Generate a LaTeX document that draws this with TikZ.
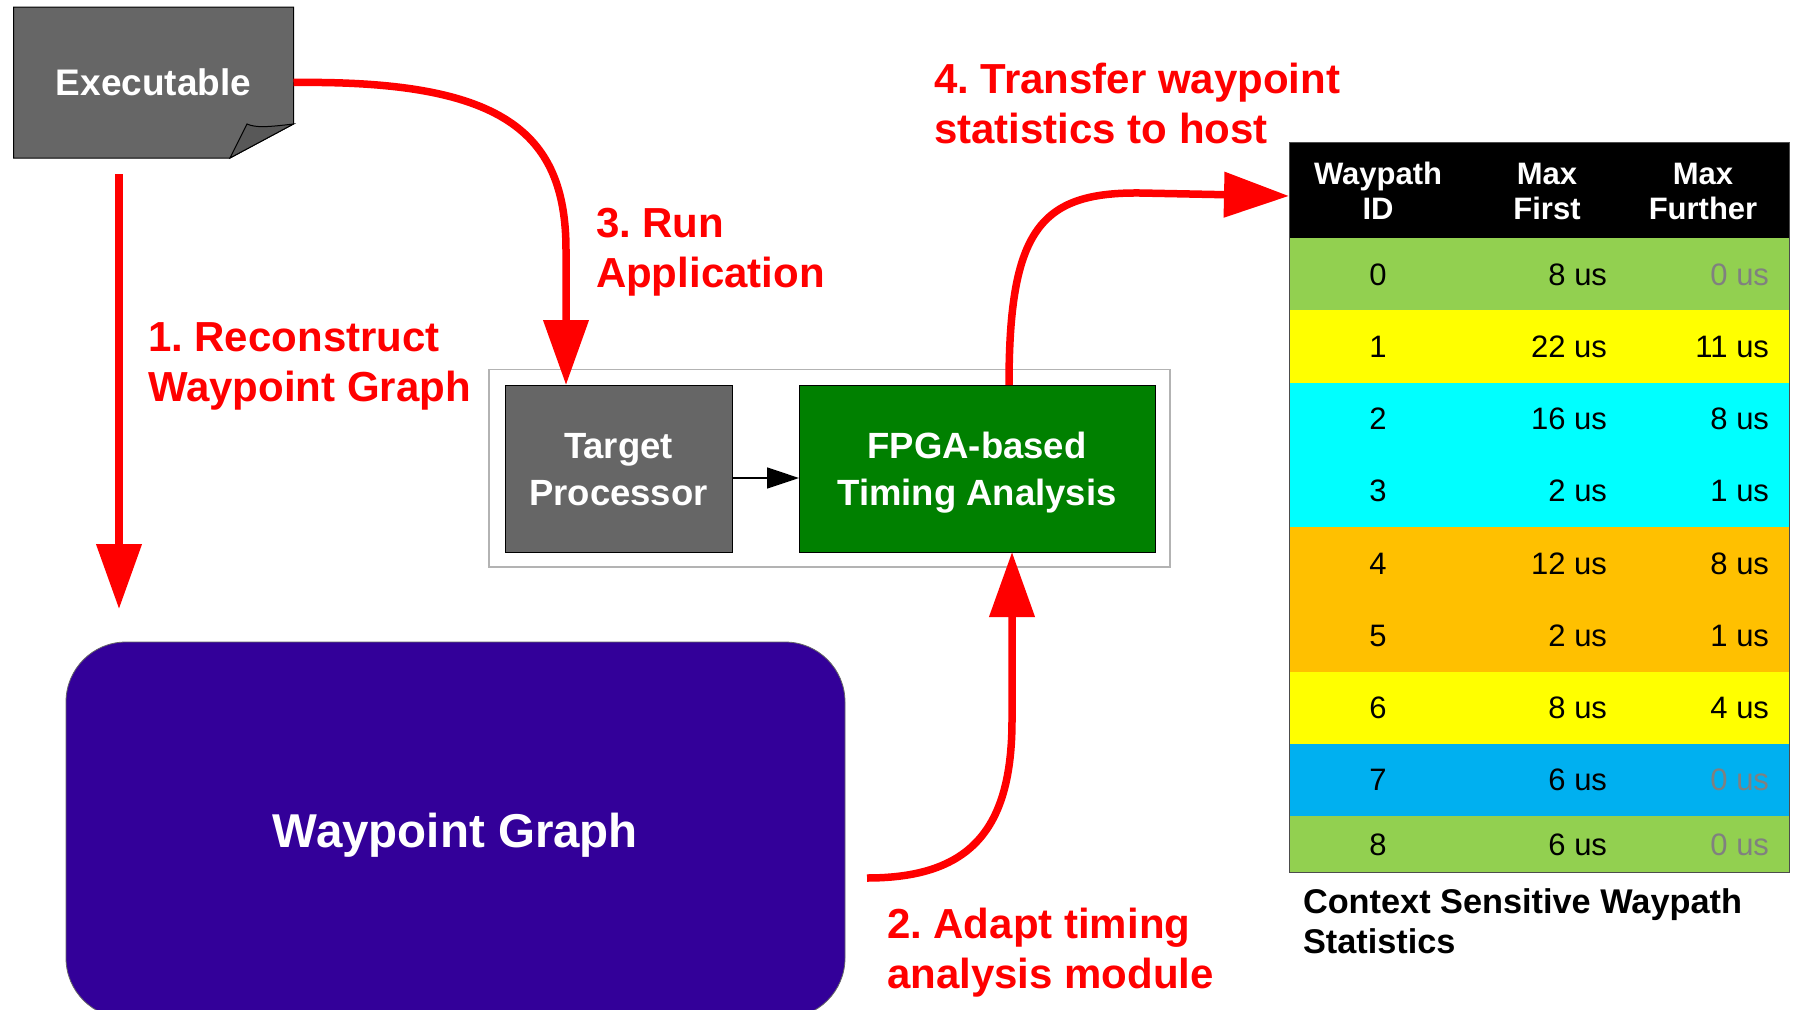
\documentclass[tikz,border=0pt]{standalone}
\usepackage{fontspec}
\setmainfont{Liberation Sans}
\usetikzlibrary{arrows.meta,backgrounds}
\frenchspacing

\definecolor{arrowred}{HTML}{FF0000}
\definecolor{boxgray}{HTML}{666666}
\definecolor{flapgray}{HTML}{585858}
\definecolor{fpgagreen}{HTML}{008000}
\definecolor{graphblue}{HTML}{330099}
\definecolor{framegray}{HTML}{B3B3B3}
\definecolor{rowgreen}{HTML}{92D050}
\definecolor{rowyellow}{HTML}{FFFF00}
\definecolor{rowcyan}{HTML}{00FFFF}
\definecolor{roworange}{HTML}{FFC000}
\definecolor{rowblue}{HTML}{00B0F0}
\definecolor{zerogray}{HTML}{808080}

% two lines stacked; the baseline is that of the first line
\newcommand\cpair[2]{\vtop{\halign{\hfil##\hfil\cr#1\cr#2\cr}}}
\newcommand\lpair[2]{\vtop{\halign{##\hfil\cr#1\cr#2\cr}}}

\begin{document}
\begin{tikzpicture}[x=1pt,y=-1pt,
  every node/.style={inner sep=0pt,outer sep=0pt},
  redarrow/.style={draw=arrowred,line width=7.5pt,
    -{Triangle[length=65pt,width=44pt]}},
  redlabel/.style={text=arrowred,anchor=base west,
    font=\bfseries\fontsize{42}{50}\selectfont},
  whitebold/.style={text=white,font=\bfseries\fontsize{36.5}{46.5}\selectfont},
  procbox/.style={draw=black,line width=1pt,whitebold,
    text height=27pt,text depth=47pt},
  rowbox/.style={minimum width=500.5pt},
  headtext/.style={text=white,anchor=base,
    font=\bfseries\fontsize{31}{35}\selectfont},
  celltext/.style={font=\fontsize{31}{37}\selectfont},
]
\useasboundingbox (0,0) rectangle (1793,1009);

% ---- executable (sheet with a folded corner) ----
\node[minimum width=280pt,minimum height=151pt,text=white,
      font=\bfseries\fontsize{37}{44}\selectfont] (exe) at (153.5,82.5) {Executable};
\begin{scope}[on background layer]
  \filldraw[fill=boxgray,draw=black,line width=1pt]
    (exe.north west) -- (exe.north east) -- ([yshift=34pt]exe.south east)
    -- ([xshift=-63.5pt]exe.south east) -- (exe.south west) -- cycle;
  \filldraw[fill=flapgray,draw=black,line width=1pt]
    ([xshift=-63.5pt]exe.south east) -- (247,124)
    .. controls (256,128) and (268,127) .. ([yshift=34pt]exe.south east) -- cycle;
\end{scope}

% ---- waypoint graph ----
\node[fill=graphblue,draw=boxgray,line width=0.8pt,rounded corners=60pt,
      minimum width=779pt,minimum height=376pt,text=white,text depth=0pt,
      font=\bfseries\fontsize{47.5}{56}\selectfont] (wg) at (455.5,830) {Waypoint Graph};

% ---- target platform ----
\node[draw=framegray,line width=1.5pt,minimum width=681pt,minimum height=197.5pt]
  (frame) at (829.5,468.25) {};
\node[procbox,fill=boxgray,minimum width=227pt,minimum height=167pt]
  (tp) at (618.5,468.5) {\cpair{Target}{Processor}};
\node[procbox,fill=fpgagreen,minimum width=356pt,minimum height=167pt]
  (fpga) at (977,468.5) {\cpair{FPGA-based}{Timing Analysis}};
\draw[line width=1.5pt,-{Triangle[length=32pt,width=21pt]}]
  ([yshift=-9.5pt]tp.east) -- ([yshift=-9.5pt]fpga.west);

% ---- statistics table ----
\node[rowbox,fill=black,minimum height=96pt] (hdr) at (1539.25,190) {};
\foreach \k/\yc/\hh/\clr in {0/274.125/72.25/rowgreen,1/346.375/72.25/rowyellow,
    2/418.625/72.25/rowcyan,3/490.875/72.25/rowcyan,4/563.125/72.25/roworange,
    5/635.375/72.25/roworange,6/707.625/72.25/rowyellow,7/779.875/72.25/rowblue,
    8/844/56/rowgreen}
  \node[rowbox,fill=\clr,minimum height=\hh pt] (r\k) at (1539.25,\yc) {};
\draw[draw=black!70,line width=1pt] (hdr.north west) rectangle (r8.south east);

\node[headtext] (h1) at (1378,184) {\cpair{Waypath}{ID}};
\node[headtext] (h2) at (1547,184) {\cpair{Max}{First}};
\node[headtext] (h3) at (1703,184) {\cpair{Max}{Further}};

\foreach \k/\yb/\va/\vb/\clr in {0/285.1/8/0/zerogray,1/357.4/22/11/black,
    2/429.6/16/8/black,3/501.9/2/1/black,4/574.1/12/8/black,5/646.4/2/1/black,
    6/718.6/8/4/black,7/790.9/6/0/zerogray,8/855/6/0/zerogray}{
  \node[celltext,anchor=base] (id\k) at (1378,\yb) {\k};
  \node[celltext,anchor=base east] (first\k) at (1607,\yb) {\va\ us};
  \node[celltext,anchor=base east,text=\clr] (further\k) at (1769,\yb) {\vb\ us};
}
\node[anchor=base west,font=\bfseries\fontsize{34.3}{40}\selectfont]
  (cap) at (1303,913) {\lpair{Context Sensitive Waypath}{Statistics}};

% ---- numbered steps ----
\coordinate (a1s) at (119,174);
\draw[redarrow,shorten >=33pt] (a1s) -- (a1s |- wg.north);

\coordinate (a2s) at (867,878);
\draw[redarrow] (a2s) .. controls (970,878) and (1012,830) .. (1012,720)
  -- ([xshift=35pt]fpga.south);

\draw[redarrow] (exe.east) .. controls (500,80) and (566,130) .. (566,250)
  -- ([xshift=-52.5pt]tp.north);

\draw[redarrow] ([xshift=32pt]fpga.north) .. controls (1009,230) and (1040,192) .. (1140,193)
  -- ([yshift=-6pt]hdr.west);

\node[redlabel] (l1) at (148,351) {\lpair{1. Reconstruct}{Waypoint Graph}};
\node[redlabel] (l2) at (887,938) {\lpair{2. Adapt timing}{analysis module}};
\node[redlabel] (l3) at (596,237) {\lpair{3. Run}{Application}};
\node[redlabel] (l4) at (934,93) {\lpair{4. Transfer waypoint}{statistics to host}};
\end{tikzpicture}
\end{document}
